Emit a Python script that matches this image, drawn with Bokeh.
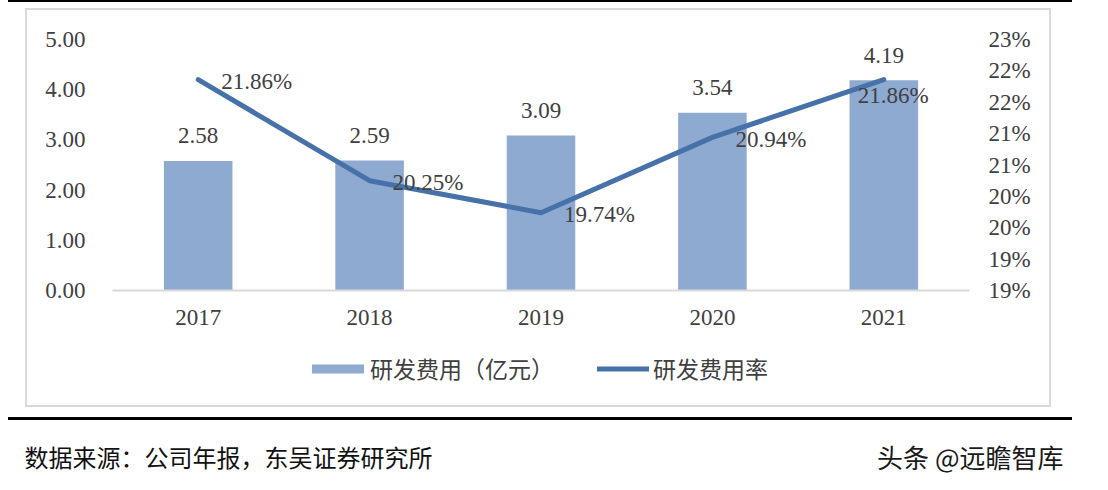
from bokeh.plotting import figure
from bokeh.models import (Range1d, LinearAxis, CategoricalAxis, FixedTicker, NumeralTickFormatter,
                          CustomJSTickFormatter, Legend, LegendItem, Label)
from bokeh.core.properties import value
from bokeh.embed import file_html
from bokeh.resources import INLINE

# ---- data ----
years = ["2017", "2018", "2019", "2020", "2021"]
rd_expense = [2.58, 2.59, 3.09, 3.54, 4.19]          # 亿元
rd_rate = [21.86, 20.25, 19.74, 20.94, 21.86]         # %
left_ticks = [0, 1, 2, 3, 4, 5]
right_ticks = [18.5, 19.0, 19.5, 20.0, 20.5, 21.0, 21.5, 22.0, 22.5]
bar_name = "研发费用（亿元）"
line_name = "研发费用率"
source_text = "数据来源：公司年报，东吴证券研究所"
watermark = "头条 @远瞻智库"

# ---- style / layout (pixels) ----
BAR_COLOR = "#8FAAD1"
LINE_COLOR = "#4672A9"
TXT = "#404040"
SERIF = "Liberation Serif"
CJK = "Noto Sans CJK SC"
FS = "23px"
PL, PR, PT, PB = 112, 969, 39, 290      # plot area edges
W, H = PR + PL, 474

n = len(years)
px_per_cat = (PR - PL) / n
pad = PL / px_per_cat
l_lo, l_hi = left_ticks[0], left_ticks[-1]
l_ppu = (PB - PT) / (l_hi - l_lo)
r_lo, r_hi = right_ticks[0], right_ticks[-1]
r_ppu = (PB - PT) / (r_hi - r_lo)


def band(color, x, y, w, h):
    return f"linear-gradient({color},{color}) {x}px {y}px / {w}px {h}px no-repeat"


deco = ", ".join([
    band("#000", 8, 0, 1064, 2),          # top rule
    band("#000", 8, 417, 1064, 3),        # bottom rule
    band("#D9D9D9", 25, 8, 1026, 2),      # box top
    band("#D9D9D9", 25, 405, 1026, 2),    # box bottom
    band("#D9D9D9", 25, 8, 2, 399),       # box left
    band("#D9D9D9", 1049, 8, 2, 399),     # box right
]) + ", #FFFFFF"

p = figure(x_range=years,
           y_range=Range1d(l_lo - (H - PB) / l_ppu, l_hi + PT / l_ppu),
           width=W, height=H, output_backend="svg", toolbar_location=None,
           min_border=0, min_border_left=0, min_border_right=0,
           min_border_top=0, min_border_bottom=0,
           x_axis_location=None, y_axis_location=None,
           styles={"background": deco})
p.x_range.range_padding = pad
p.x_range.range_padding_units = "absolute"
p.outline_line_color = None
p.background_fill_color = None
p.border_fill_color = None
p.grid.visible = False

p.extra_y_ranges = {"pct": Range1d(r_lo - (H - PB) / r_ppu, r_hi + PT / r_ppu)}

# x axis (at value 0 of the left scale)
xa = CategoricalAxis(fixed_location=0, bounds=(0, n))
xa.axis_line_color = "#D9D9D9"
xa.axis_line_width = 2
xa.major_tick_line_color = None
xa.minor_tick_line_color = None
xa.major_tick_out = 0
xa.major_tick_in = 0
xa.major_label_standoff = 19
xa.major_label_text_font = SERIF
xa.major_label_text_font_size = FS
xa.major_label_text_color = TXT
p.add_layout(xa, "below")

# left axis
ya = LinearAxis(fixed_location=0, ticker=FixedTicker(ticks=left_ticks),
                formatter=NumeralTickFormatter(format="0.00"))
ya.axis_line_color = None
ya.major_tick_line_color = None
ya.minor_tick_line_color = None
ya.major_tick_out = 0
ya.major_tick_in = 0
ya.major_label_standoff = 27
ya.major_label_text_font = SERIF
ya.major_label_text_font_size = FS
ya.major_label_text_color = TXT
p.add_layout(ya, "left")

# right axis
ra = LinearAxis(y_range_name="pct", fixed_location=n, ticker=FixedTicker(ticks=right_ticks),
                formatter=CustomJSTickFormatter(code="return Math.floor(tick + 0.5 + 1e-9) + '%';"))
ra.axis_line_color = None
ra.major_tick_line_color = None
ra.minor_tick_line_color = None
ra.major_tick_out = 0
ra.major_tick_in = 0
ra.major_label_standoff = 19
ra.major_label_text_font = SERIF
ra.major_label_text_font_size = FS
ra.major_label_text_color = TXT
p.add_layout(ra, "right")

bars = p.vbar(x=years, top=rd_expense, width=0.4, fill_color=BAR_COLOR, line_color=None)
ln = p.line(x=years, y=rd_rate, y_range_name="pct", line_color=LINE_COLOR, line_width=5,
            line_cap="round", line_join="round")

p.text(x=years, y=rd_expense, text=[f"{v:.2f}" for v in rd_expense],
       text_align="center", text_baseline="middle", y_offset=-25,
       text_font=value(SERIF), text_font_size=FS, text_color=TXT)
p.text(x=years[:4], y=rd_rate[:4], text=[f"{v:.2f}%" for v in rd_rate[:4]],
       y_range_name="pct", text_align="left", text_baseline="middle",
       x_offset=23, y_offset=2,
       text_font=value(SERIF), text_font_size=FS, text_color=TXT)
p.text(x=years[4:], y=rd_rate[4:], text=[f"{v:.2f}%" for v in rd_rate[4:]],
       y_range_name="pct", text_align="left", text_baseline="middle",
       x_offset=-26, y_offset=16,
       text_font=value(SERIF), text_font_size=FS, text_color=TXT)

# legends
common = dict(orientation="horizontal", padding=0, margin=0, spacing=0,
              border_line_color=None, background_fill_alpha=0,
              label_text_font=CJK, label_text_font_size="23px", label_height=32,
              label_text_color=TXT, label_text_baseline="middle")
p.add_layout(Legend(items=[LegendItem(label=bar_name, renderers=[bars])],
                    location=(305, H - 385), glyph_width=65, glyph_height=11,
                    label_standoff=0, **common))
p.add_layout(Legend(items=[LegendItem(label=line_name, renderers=[ln])],
                    location=(597, H - 385), glyph_width=52, glyph_height=11,
                    label_standoff=4, **common))

# footer texts
p.add_layout(Label(x=24, y=H - 456, x_units="screen", y_units="screen", text=source_text,
                   text_align="left", text_baseline="middle", text_font=CJK,
                   text_font_size="24px", text_color="#111111"))
p.add_layout(Label(x=1063, y=H - 456, x_units="screen", y_units="screen", text=watermark,
                   text_align="right", text_baseline="middle", text_font=CJK,
                   text_font_size="26px", text_color="#1A1A1A"))

open("out.html", "w").write(file_html(p, INLINE))
